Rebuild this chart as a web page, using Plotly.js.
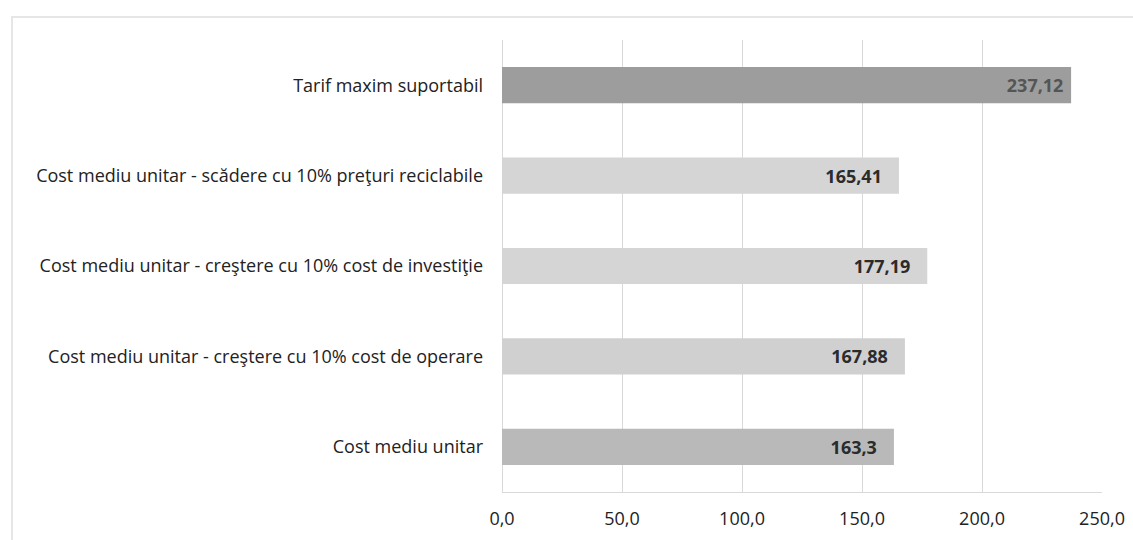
<!DOCTYPE html>
<html>
<head>
<meta charset="utf-8">
<script src="https://cdn.plot.ly/plotly-3.0.1.min.js"></script>
<style>
  html, body { margin: 0; padding: 0; background: #ffffff; }
  #frame { position: absolute; left: 11px; top: 16px; width: 1140px; height: 560px; border: 2px solid #e6e6e6; box-sizing: border-box; }
  #chart { position: absolute; left: 0; top: 0; width: 1133px; height: 540px; }
</style>
</head>
<body>
<div id="frame"></div>
<div id="chart"></div>
<script>
// Categories listed bottom-to-top (Plotly draws the first category at the bottom)
const categories = [
  "Cost mediu unitar",
  "Cost mediu unitar - creştere cu 10% cost de operare",
  "Cost mediu unitar - creştere cu 10% cost de investiţie",
  "Cost mediu unitar - scădere cu 10% preţuri reciclabile",
  "Tarif maxim suportabil"
];
const values = [163.3, 167.88, 177.19, 165.41, 237.12];
const barColors = ["#b9b9b9", "#d0d0d0", "#d5d5d5", "#d5d5d5", "#9d9d9d"];
const labelColors = ["#2b2b2b", "#2b2b2b", "#2b2b2b", "#2b2b2b", "#555555"];
const tickValues = [0, 50, 100, 150, 200, 250];

const labels = values.map((v, i) => String(v).replace('.', ',') + (i === 4 ? '\u00a0' : '\u00a0\u00a0\u00a0'));

const trace = {
  type: 'bar',
  orientation: 'h',
  y: categories,
  x: values,
  marker: { color: barColors, line: { width: 0 } },
  text: labels,
  textposition: 'inside',
  insidetextanchor: 'end',
  textangle: 0,
  textfont: { family: 'Open Sans, sans-serif', size: 18, color: labelColors, weight: 'bold' },
  hoverinfo: 'none',
  cliponaxis: false
};

const layout = {
  width: 1133,
  height: 540,
  margin: { l: 502, r: 31, t: 40, b: 48 },
  paper_bgcolor: 'rgba(0,0,0,0)',
  plot_bgcolor: 'rgba(0,0,0,0)',
  separators: ',.',
  bargap: 0.6,
  showlegend: false,
  font: { family: 'Open Sans, sans-serif', color: '#222222' },
  xaxis: {
    range: [0, 250],
    tickvals: tickValues,
    tickformat: '.1f',
    showgrid: true,
    gridcolor: '#d9d9d9',
    gridwidth: 1,
    zeroline: true,
    zerolinecolor: '#d9d9d9',
    showline: true,
    linecolor: '#d9d9d9',
    ticks: '',
    tickfont: { size: 18, color: '#222222' },
    ticklabelstandoff: 10,
    automargin: false,
    fixedrange: true
  },
  yaxis: {
    ticks: '',
    showgrid: false,
    tickfont: { size: 18, color: '#222222' },
    ticklabelstandoff: 18,
    automargin: false,
    fixedrange: true
  }
};

Plotly.newPlot('chart', [trace], layout, { displayModeBar: false, staticPlot: true });
</script>
</body>
</html>
